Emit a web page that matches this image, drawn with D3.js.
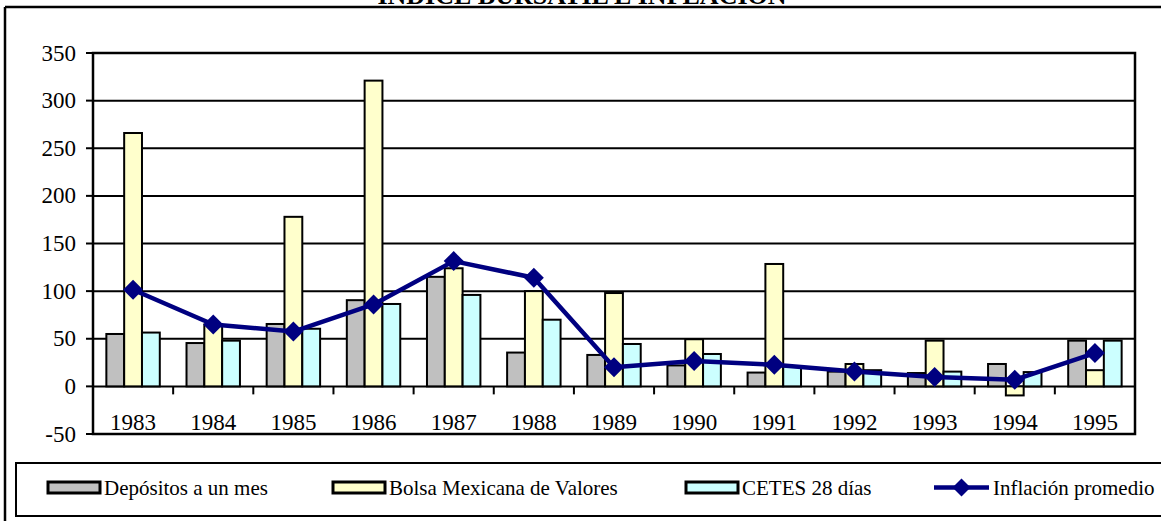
<!DOCTYPE html>
<html><head><meta charset="utf-8">
<script src="https://cdn.jsdelivr.net/npm/d3@7/dist/d3.min.js"></script>
<style>body{margin:0;background:#fff}svg{display:block}</style>
</head><body><svg id="c" width="1161" height="525" font-family="'Liberation Serif', 'Times New Roman', 'DejaVu Serif', serif"></svg>
<script>
const title = "INDICE BURSATIL E INFLACION";
const years = ["1983","1984","1985","1986","1987","1988","1989","1990","1991","1992","1993","1994","1995"];
const depositos = [55, 45.5, 65.5, 90.5, 115, 35.5, 33, 22, 14.5, 15.5, 14, 23.5, 48];
const bolsa = [266, 65, 178, 321, 124, 100, 98, 49.5, 128.5, 23.5, 48, -9.5, 17];
const cetes = [56.5, 48, 60.5, 86.5, 96, 70, 44.5, 34, 21, 17, 15.5, 15, 48];
const inflacion = [101.5, 65, 57.5, 86, 131.5, 114, 20, 26.7, 22.7, 15.5, 9.8, 7, 35];
const yTicks = [-50, 0, 50, 100, 150, 200, 250, 300, 350];
const seriesNames = ["Depósitos a un mes", "Bolsa Mexicana de Valores", "CETES 28 días", "Inflación promedio"];
const barColors = ["#C0C0C0", "#FFFFCC", "#CCFFFF"];
const lineColor = "#000080";

const svg = d3.select("#c");
const L = 93, R = 1135, T = 53, B = 434;
const x = d3.scaleBand().domain(years).range([L, R]).padding(0);
const y = d3.scaleLinear().domain([-50, 350]).range([B, T]);
const bw = x.bandwidth() / 4.5;
const sub = d3.scaleBand().domain([0,1,2]).range([0, 3*bw]);

// outer frame
svg.append("line").attr("x1",5).attr("x2",1161).attr("y1",7).attr("y2",7).attr("stroke","#000").attr("stroke-width",2.5);
svg.append("line").attr("x1",5).attr("x2",5).attr("y1",7).attr("y2",521).attr("stroke","#000").attr("stroke-width",2.5);

// title (partly clipped at top as in the reference)
svg.append("text").attr("x", 582).attr("y", 4).attr("text-anchor","middle")
  .attr("font-size", 26).attr("font-weight","bold").text(title);

// gridlines
svg.append("g").selectAll("line").data(yTicks.filter(d => d > -50 && d < 350)).join("line")
  .attr("x1", L).attr("x2", R).attr("y1", d => y(d)).attr("y2", d => y(d))
  .attr("stroke", "#000").attr("stroke-width", 2);

// bars
const series = [depositos, bolsa, cetes];
const g = svg.append("g");
series.forEach((vals, si) => {
  g.selectAll(null).data(vals).join("rect")
    .attr("x", (d, i) => x(years[i]) + (x.bandwidth() - 3*bw)/2 + sub(si))
    .attr("y", d => y(Math.max(0, d)))
    .attr("width", bw)
    .attr("height", d => Math.abs(y(d) - y(0)))
    .attr("fill", barColors[si]).attr("stroke", "#000").attr("stroke-width", 2);
});

// category axis ticks
svg.append("g").selectAll("line").data(years.slice(1)).join("line")
  .attr("x1", d => x(d)).attr("x2", d => x(d)).attr("y1", y(0)).attr("y2", y(0) + 8)
  .attr("stroke", "#000").attr("stroke-width", 2);

// line
const line = d3.line().x((d, i) => x(years[i]) + x.bandwidth()/2).y(d => y(d));
svg.append("path").datum(inflacion).attr("d", line).attr("fill","none")
  .attr("stroke", lineColor).attr("stroke-width", 4.5).attr("stroke-linejoin","round");
const diamond = (cx, cy, r) => `M${cx},${cy-r}L${cx+r},${cy}L${cx},${cy+r}L${cx-r},${cy}Z`;
svg.append("g").selectAll("path").data(inflacion).join("path")
  .attr("d", (d, i) => diamond(x(years[i]) + x.bandwidth()/2, y(d), 10))
  .attr("fill", lineColor);

// plot border
svg.append("rect").attr("x", L).attr("y", T).attr("width", R - L).attr("height", B - T)
  .attr("fill", "none").attr("stroke", "#000").attr("stroke-width", 2.5);

// y axis
const yAxis = svg.append("g");
yAxis.selectAll("line").data(yTicks).join("line")
  .attr("x1", L - 7).attr("x2", L).attr("y1", d => y(d)).attr("y2", d => y(d))
  .attr("stroke", "#000").attr("stroke-width", 2);
yAxis.selectAll("text").data(yTicks).join("text")
  .attr("x", 76).attr("y", d => y(d) + 7.5).attr("text-anchor", "end")
  .attr("font-size", 23).text(d => d);

// x labels
svg.append("g").selectAll("text").data(years).join("text")
  .attr("x", d => x(d) + x.bandwidth()/2).attr("y", 430).attr("text-anchor", "middle")
  .attr("font-size", 23).text(d => d);

// legend
svg.append("rect").attr("x", 16).attr("y", 463).attr("width", 1180).attr("height", 53)
  .attr("fill", "none").attr("stroke", "#000").attr("stroke-width", 2);
const legX = [48, 333, 686];
const lg = svg.append("g");
barColors.forEach((c, i) => {
  lg.append("rect").attr("x", legX[i]).attr("y", 482).attr("width", 52).attr("height", 11)
    .attr("fill", c).attr("stroke", "#000").attr("stroke-width", 3);
  lg.append("text").attr("x", legX[i] + 56).attr("y", 495).attr("font-size", 21).text(seriesNames[i]);
});
lg.append("line").attr("x1", 934).attr("x2", 989).attr("y1", 487.5).attr("y2", 487.5)
  .attr("stroke", lineColor).attr("stroke-width", 4.5);
lg.append("path").attr("d", diamond(961.5, 487.5, 9)).attr("fill", lineColor);
lg.append("text").attr("x", 993).attr("y", 495).attr("font-size", 21).text(seriesNames[3]);
</script></body></html>
